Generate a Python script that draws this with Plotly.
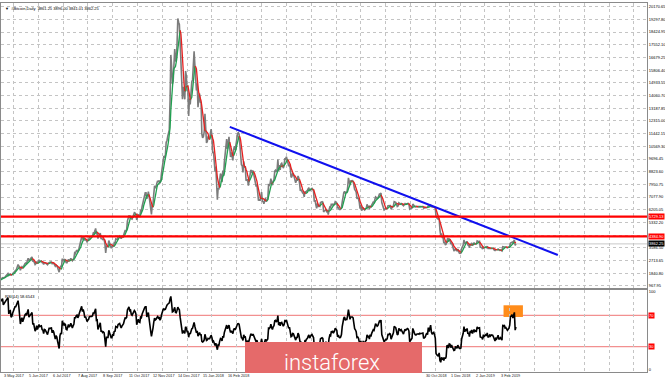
import pandas as pd
import numpy as np
import plotly.graph_objects as go

# ---------------- data (daily closes, read/estimated from the chart) ----------------
close_2017_04 = [1080, 1100, 1145, 1140, 1125, 1190, 1190, 1180, 1205, 1207,
                 1225, 1218, 1175, 1175, 1175, 1180, 1195, 1210, 1220, 1250,
                 1250, 1245, 1250, 1250, 1265, 1285, 1345, 1325, 1335, 1350]
close_2017_05 = [1420, 1450, 1500, 1540, 1510, 1550, 1555, 1640, 1700, 1760,
                 1820, 1690, 1770, 1780, 1715, 1730, 1810, 1890, 1980, 2050,
                 2050, 2125, 2290, 2440, 2360, 2190, 2050, 2200, 2290, 2200,
                 2330]
close_2017_06 = [2450, 2520, 2560, 2530, 2700, 2880, 2700, 2800, 2820, 2900,
                 2960, 2650, 2710, 2460, 2440, 2500, 2650, 2520, 2600, 2730,
                 2660, 2690, 2690, 2580, 2560, 2450, 2580, 2570, 2540, 2480]
close_2017_07 = [2430, 2520, 2600, 2600, 2610, 2610, 2500, 2560, 2520, 2370,
                 2330, 2400, 2360, 2230, 1950, 1920, 2230, 2320, 2280, 2850,
                 2670, 2820, 2740, 2760, 2580, 2560, 2680, 2800, 2720, 2750,
                 2870]
close_2017_08 = [2720, 2710, 2800, 2880, 3250, 3210, 3380, 3420, 3340, 3420,
                 3650, 3860, 4060, 4320, 4160, 4380, 4280, 4100, 4190, 4090,
                 4000, 4090, 4140, 4320, 4360, 4350, 4350, 4390, 4600, 4580,
                 4740]
close_2017_09 = [4920, 4580, 4600, 4230, 4380, 4600, 4610, 4230, 4230, 4160,
                 4190, 4150, 3870, 3240, 3700, 3690, 3690, 4090, 3910, 3900,
                 3600, 3600, 3780, 3660, 3930, 3890, 4210, 4190, 4160, 4340]
close_2017_10 = [4400, 4410, 4310, 4220, 4320, 4370, 4440, 4610, 4770, 4760,
                 4820, 5430, 5640, 5820, 5690, 5750, 5600, 5570, 5710, 6000,
                 6010, 5980, 5900, 5510, 5730, 5890, 5770, 5750, 6150, 6130,
                 6450]
close_2017_11 = [6740, 7030, 7160, 7380, 7380, 6960, 7120, 7460, 7140, 6570,
                 6340, 5880, 6520, 6600, 7280, 7850, 7700, 7790, 8040, 8200,
                 8100, 8230, 8020, 8200, 8750, 9300, 9700, 9900, 9850, 9950]
close_2017_12 = [10850, 10950, 11250, 11650, 11700, 13700, 16850, 16050, 14850, 15050,
                 16700, 17250, 16450, 16400, 17600, 19350, 19100, 18950, 17700, 16400,
                 15600, 13800, 14650, 13900, 13800, 15750, 15400, 14400, 14400, 12650,
                 13850]
close_2018_01 = [13450, 14750, 15000, 15150, 16900, 17100, 16150, 14900, 14400, 14900,
                 13250, 13800, 14200, 13600, 13580, 11400, 11150, 11250, 11550, 12800,
                 11500, 10800, 10900, 11250, 11100, 11100, 11450, 11750, 11200, 10100,
                 10200]
close_2018_02 = [9100, 8830, 9180, 8200, 6900, 7700, 7600, 8250, 8700, 8550,
                 8100, 8900, 8540, 9480, 10030, 10170, 11060, 10380, 11150, 11220,
                 10430, 9830, 10150, 9700, 9600, 10320, 10570, 10320]
close_2018_03 = [10920, 11030, 11460, 11500, 11420, 10700, 9910, 9300, 9230, 8780,
                 9530, 9140, 9150, 8200, 8250, 8270, 7870, 8200, 8600, 8900,
                 8900, 8720, 8900, 8550, 8450, 8150, 7800, 7950, 7100, 6840,
                 6930]
close_2018_04 = [6830, 7060, 7420, 6790, 6780, 6620, 6900, 7020, 6770, 6830,
                 6940, 7920, 7890, 8000, 8350, 8060, 7900, 8170, 8280, 8860,
                 8920, 8800, 8940, 9650, 8870, 9280, 8940, 9350, 9400, 9240]
close_2018_05 = [9070, 9220, 9740, 9700, 9850, 9650, 9380, 9200, 9320, 9040,
                 8440, 8480, 8700, 8680, 8480, 8340, 8060, 8240, 8240, 8530,
                 8400, 8000, 7510, 7590, 7460, 7350, 7340, 7100, 7470, 7390,
                 7490]
close_2018_06 = [7520, 7640, 7720, 7490, 7620, 7650, 7680, 7620, 7500, 6760,
                 6870, 6550, 6300, 6640, 6400, 6490, 6450, 6710, 6740, 6760,
                 6720, 6050, 6140, 6150, 6250, 6090, 6150, 5870, 6200, 6390]
close_2018_07 = [6350, 6620, 6510, 6590, 6530, 6600, 6760, 6710, 6660, 6300,
                 6390, 6250, 6220, 6250, 6350, 6740, 7320, 7380, 7470, 7330,
                 7400, 7400, 7720, 8400, 8170, 7930, 8190, 8230, 8210, 8170,
                 7730]
close_2018_08 = [7600, 7530, 7410, 7010, 7030, 6940, 6720, 6280, 6540, 6150,
                 6240, 6320, 6250, 6190, 6270, 6310, 6580, 6400, 6490, 6260,
                 6480, 6360, 6530, 6690, 6730, 6700, 6910, 7090, 7040, 6980,
                 7020]
close_2018_09 = [7190, 7280, 7260, 7360, 6700, 6500, 6410, 6200, 6240, 6300,
                 6280, 6320, 6490, 6480, 6520, 6500, 6260, 6340, 6390, 6490,
                 6760, 6720, 6710, 6590, 6430, 6460, 6680, 6640, 6600, 6630]
close_2018_10 = [6590, 6530, 6480, 6570, 6630, 6600, 6620, 6650, 6640, 6590,
                 6250, 6290, 6300, 6330, 6600, 6480, 6460, 6400, 6390, 6410,
                 6420, 6420, 6410, 6430, 6420, 6420, 6430, 6430, 6330, 6340,
                 6350]
close_2018_11 = [6380, 6400, 6380, 6480, 6420, 6470, 6530, 6420, 6380, 6400,
                 6410, 6370, 6310, 5730, 5640, 5580, 5570, 5620, 4830, 4450,
                 4590, 4320, 4340, 3910, 4010, 3780, 3840, 4260, 4270, 4020]
close_2018_12 = [4200, 4160, 3850, 3960, 3780, 3520, 3400, 3410, 3550, 3460,
                 3390, 3500, 3290, 3220, 3200, 3220, 3540, 3670, 3780, 4130,
                 3860, 3960, 3940, 4040, 3760, 3820, 3590, 3870, 3820, 3930,
                 3740]
close_2019_01 = [3850, 3940, 3840, 3880, 3860, 4060, 4010, 4010, 4030, 3630,
                 3630, 3600, 3510, 3670, 3590, 3630, 3650, 3610, 3700, 3540,
                 3540, 3590, 3560, 3590, 3580, 3580, 3540, 3430, 3410, 3460,
                 3440]
close_2019_02 = [3470, 3510, 3420, 3420, 3440, 3390, 3380, 3670, 3660, 3690,
                 3630, 3640, 3620, 3590, 3610, 3630, 3690, 3920, 3930, 3980,
                 3930, 3990, 4130, 3760, 3862.25]

month_starts = ["2017-04-01", "2017-05-01", "2017-06-01", "2017-07-01", "2017-08-01",
                "2017-09-01", "2017-10-01", "2017-11-01", "2017-12-01", "2018-01-01",
                "2018-02-01", "2018-03-01", "2018-04-01", "2018-05-01", "2018-06-01",
                "2018-07-01", "2018-08-01", "2018-09-01", "2018-10-01", "2018-11-01",
                "2018-12-01", "2019-01-01", "2019-02-01"]
month_closes = [close_2017_04, close_2017_05, close_2017_06, close_2017_07, close_2017_08,
                close_2017_09, close_2017_10, close_2017_11, close_2017_12, close_2018_01,
                close_2018_02, close_2018_03, close_2018_04, close_2018_05, close_2018_06,
                close_2018_07, close_2018_08, close_2018_09, close_2018_10, close_2018_11,
                close_2018_12, close_2019_01, close_2019_02]

# analyst drawings
level_prices = [5729.13, 4384.90]
trend_dates = ["2018-02-21", "2019-04-20"]
trend_prices = [11900, 3100]
box_dates = ["2019-02-09", "2019-03-06"]
box_rsi = [68, 83]
rsi_levels = [70, 30]

# axis labels
x_label_dates = ["2017-05-03", "2017-06-05", "2017-07-06", "2017-08-07", "2017-09-08",
                 "2017-10-11", "2017-11-12", "2017-12-14", "2018-01-15", "2018-02-16",
                 "2018-10-30", "2018-12-01", "2019-01-02", "2019-02-03"]
x_label_text = ["3 May 2017", "5 Jun 2017", "6 Jul 2017", "7 Aug 2017", "8 Sep 2017",
                "11 Oct 2017", "12 Nov 2017", "14 Dec 2017", "15 Jan 2018", "16 Feb 2018",
                "30 Oct 2018", "1 Dec 2018", "2 Jan 2019", "3 Feb 2019"]
y_tick_vals = [967.95 + 872.85 * k for k in range(23)]
title_text = "▼  #Bitcoin,Daily  3861.25 3896.00 3841.01 3862.25"
rsi_text = "RSI(14) 58.6543"

# ---------------- derived series ----------------
dates, closes = [], []
for ms, cl in zip(month_starts, month_closes):
    dates += list(pd.date_range(ms, periods=len(cl), freq="D"))
    closes += cl
s = pd.Series(closes, index=pd.DatetimeIndex(dates))
ma = s.rolling(5).mean()
delta = s.diff()
gain = delta.clip(lower=0)
loss = -delta.clip(upper=0)
ag = gain.ewm(alpha=1 / 14, adjust=False).mean()
al = loss.ewm(alpha=1 / 14, adjust=False).mean()
rsi = 100 - 100 / (1 + ag / al)

def colored_segments(up):
    xs, ys = [], []
    prev_in = False
    for i in range(1, len(ma)):
        if np.isnan(ma.iloc[i - 1]):
            continue
        is_up = ma.iloc[i] >= ma.iloc[i - 1]
        if is_up == up:
            if not prev_in:
                if xs:
                    xs.append(None); ys.append(None)
                xs.append(ma.index[i - 1]); ys.append(ma.iloc[i - 1])
            xs.append(ma.index[i]); ys.append(ma.iloc[i])
            prev_in = True
        else:
            prev_in = False
    return xs, ys

# ---------------- figure ----------------
W, H = 665, 381
ML, MR, MT, MB = 1, 18, 3, 9
PH = H - MT - MB
PW = W - ML - MR
main_bottom = (H - MB - 288) / PH
rsi_top = (H - MB - 290) / PH

x_start = pd.Timestamp("2017-05-02")
x_end = x_start + pd.Timedelta(days=833)
grid_dates = pd.date_range("2017-05-18", periods=27, freq="32D")

fig = go.Figure()
fig.add_trace(go.Scatter(x=s.index, y=s.values, mode="lines",
                         line=dict(color="#7c7c7c", width=1.6), xaxis="x", yaxis="y",
                         hoverinfo="skip"))
gx, gy = colored_segments(True)
rx, ry = colored_segments(False)
fig.add_trace(go.Scatter(x=gx, y=gy, mode="lines", line=dict(color="#20a050", width=1.3),
                         xaxis="x", yaxis="y", connectgaps=False))
fig.add_trace(go.Scatter(x=rx, y=ry, mode="lines", line=dict(color="#e82020", width=1.3),
                         xaxis="x", yaxis="y", connectgaps=False))
fig.add_trace(go.Scatter(x=trend_dates, y=trend_prices, mode="lines",
                         line=dict(color="#1010ee", width=2), xaxis="x", yaxis="y"))
fig.add_trace(go.Scatter(x=rsi.index[14:], y=rsi.values[14:], mode="lines",
                         line=dict(color="#000000", width=1.6), xaxis="x2", yaxis="y2"))

shapes = []
for lv in level_prices:
    shapes.append(dict(type="line", xref="paper", x0=0, x1=1, yref="y", y0=lv, y1=lv,
                       line=dict(color="#ff0000", width=2.2), layer="above"))
shapes.append(dict(type="line", xref="paper", x0=0, x1=1, yref="y", y0=closes[-1], y1=closes[-1],
                   line=dict(color="#c8c8c8", width=1), layer="below"))
for lv in rsi_levels:
    shapes.append(dict(type="line", xref="paper", x0=0, x1=1, yref="y2", y0=lv, y1=lv,
                       line=dict(color="#f29090", width=1.2), layer="below"))
shapes.append(dict(type="rect", xref="x2", yref="y2", x0=box_dates[0], x1=box_dates[1],
                   y0=box_rsi[0], y1=box_rsi[1], fillcolor="#ff8c1a",
                   line=dict(width=0), layer="below"))
# logo box
shapes.append(dict(type="rect", xref="paper", yref="paper",
                   x0=(245 - ML) / PW, x1=(422 - ML) / PW,
                   y0=(H - MB - 373) / PH, y1=(H - MB - 342) / PH,
                   fillcolor="#e56a6a", line=dict(width=0), layer="above"))

ann = []
for d, t in zip(x_label_dates, x_label_text):
    ann.append(dict(x=d, xref="x2", y=-0.012, yref="paper", text=t, showarrow=False,
                    xanchor="left", yanchor="middle", font=dict(size=3.8, color="#222")))
for lv in level_prices:
    ann.append(dict(x=1, xref="paper", y=lv, yref="y", text=f"{lv:.2f}", showarrow=False,
                    xanchor="left", yanchor="middle", xshift=1, bgcolor="#ff0000",
                    borderpad=0, font=dict(size=4, color="#ffffff")))
ann.append(dict(x=1, xref="paper", y=closes[-1], yref="y", text=f"{closes[-1]:.2f}",
                showarrow=False, xanchor="left", yanchor="middle", xshift=1,
                bgcolor="#000000", borderpad=0, font=dict(size=4, color="#ffffff")))
for lv in rsi_levels:
    ann.append(dict(x=1, xref="paper", y=lv, yref="y2", text=str(lv), showarrow=False,
                    xanchor="left", yanchor="middle", xshift=1, bgcolor="#ff0000",
                    borderpad=0, font=dict(size=4, color="#ffffff")))
ann.append(dict(x=0, xref="paper", y=1, yref="paper", text=title_text, showarrow=False,
                xanchor="left", yanchor="top", xshift=2, yshift=-1,
                font=dict(size=4, color="#000")))
ann.append(dict(x=0, xref="paper", y=rsi_top, yref="paper", text=rsi_text, showarrow=False,
                xanchor="left", yanchor="top", xshift=2, yshift=-2,
                font=dict(size=4, color="#000")))
ann.append(dict(x=(332 - ML) / PW, xref="paper", y=(H - MB - 362) / PH, yref="paper",
                text="instaforex", showarrow=False, xanchor="center", yanchor="middle",
                font=dict(size=22, color="#ffffff", family="Roboto", weight=300)))

grid_common = dict(showgrid=True, gridcolor="#c4c4c4", griddash="dot", gridwidth=1,
                   zeroline=False, showline=True, mirror=True, linecolor="#8a8a8a",
                   linewidth=1, ticks="")

fig.update_layout(
    width=W, height=H, margin=dict(l=ML, r=MR, t=MT, b=MB, autoexpand=False),
    paper_bgcolor="white", plot_bgcolor="white", showlegend=False,
    font=dict(family="Liberation Sans", size=4, color="#000"),
    xaxis=dict(domain=[0, 1], anchor="y", type="date", range=[x_start, x_end],
               tickvals=grid_dates, showticklabels=False, **grid_common),
    xaxis2=dict(domain=[0, 1], anchor="y2", type="date", range=[x_start, x_end], matches="x",
                tickvals=grid_dates, showticklabels=False, **grid_common),
    yaxis=dict(domain=[main_bottom, 1], anchor="x", side="right", range=[830, 20418],
               tickvals=y_tick_vals, ticktext=[f"{v:.2f}" for v in y_tick_vals],
               tickfont=dict(size=4), automargin=False, **grid_common),
    yaxis2=dict(domain=[0, rsi_top], anchor="x2", side="right", range=[-2.6, 102.6],
                tickvals=[0, 100], ticktext=["0", "100"], tickfont=dict(size=4),
                automargin=False,
                showgrid=False, zeroline=False, showline=True, mirror=True,
                linecolor="#8a8a8a", linewidth=1, ticks=""),
    shapes=shapes, annotations=ann,
)

fig.write_html("out.html", config={"displayModeBar": False},
               post_script="document.body.style.margin='0';document.body.style.padding='0';")
